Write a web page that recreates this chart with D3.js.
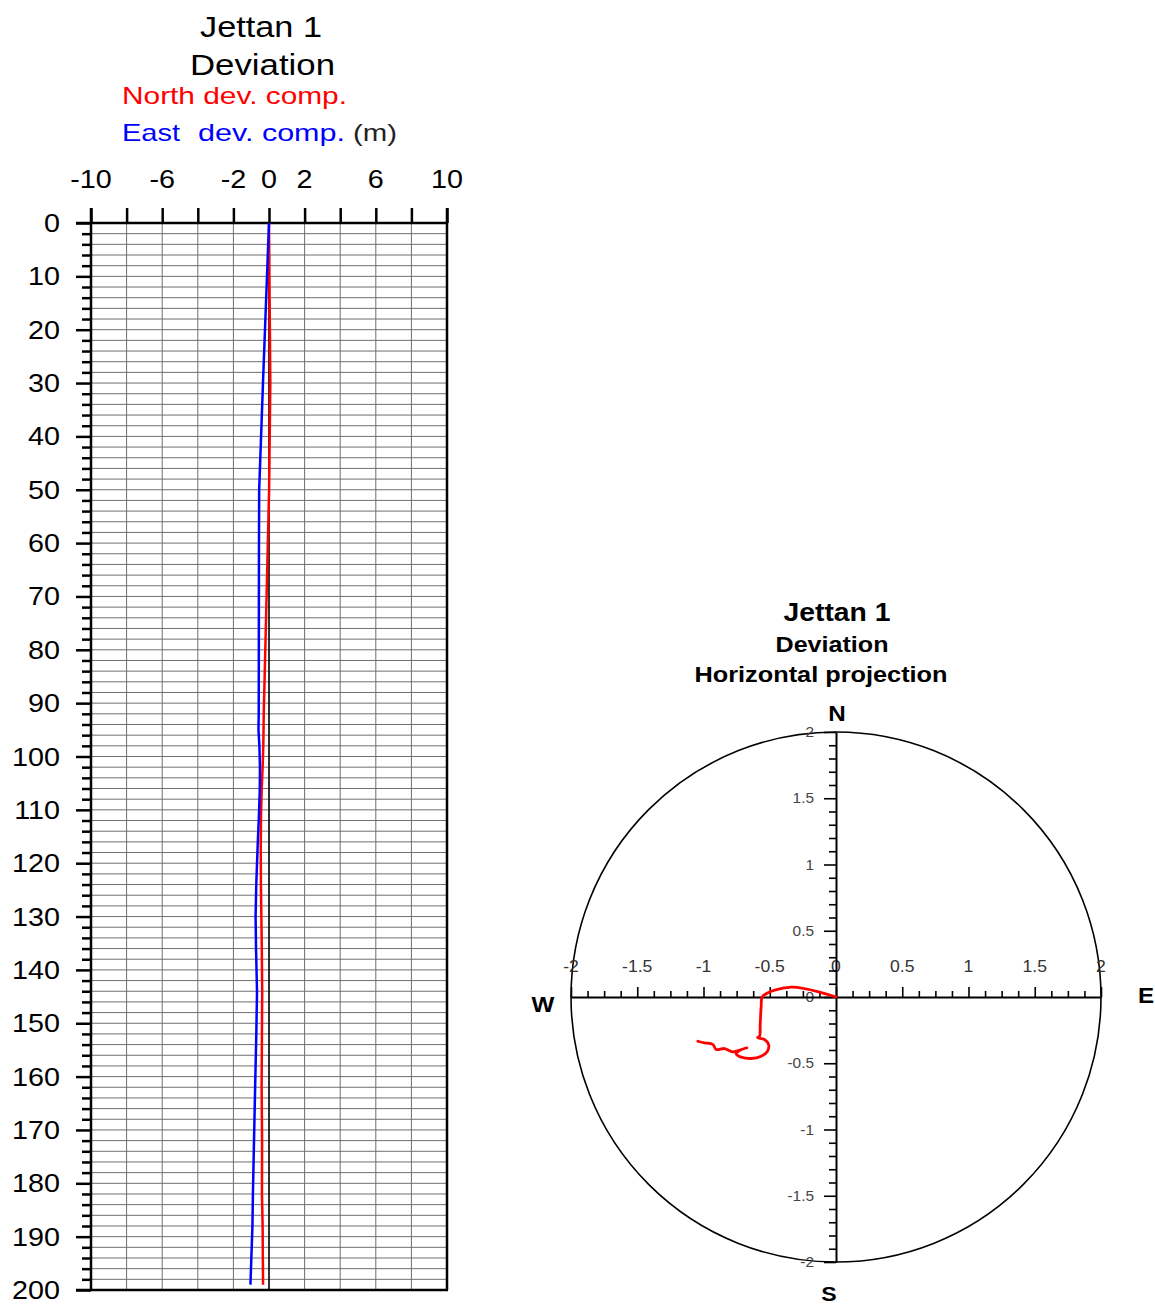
<!DOCTYPE html>
<html>
<head>
<meta charset="utf-8">
<script src="https://cdn.jsdelivr.net/npm/d3@7"></script>
<style>
  html, body { margin: 0; padding: 0; background: #fff; }
  svg { display: block; }
</style>
</head>
<body>
<svg id="chart" width="1155" height="1306"></svg>
<script>
// Survey stations of the Jettan 1 well: measured depth (m) and horizontal
// deviation components (m), east and north of the wellhead.
const depth = [0, 30, 50, 62, 80, 92, 95, 98, 102, 106, 111, 117, 124, 130, 136, 144, 152, 162, 172, 182, 188, 194, 199];
const east  = [0, -0.338, -0.552, -0.565, -0.572, -0.577, -0.592, -0.540, -0.509, -0.517, -0.565, -0.640, -0.715, -0.753, -0.728, -0.673, -0.713, -0.779, -0.842, -0.904, -0.930, -0.992, -1.043];
const north = [0, 0.074, 0.006, -0.079, -0.208, -0.296, -0.306, -0.321, -0.358, -0.409, -0.447, -0.464, -0.454, -0.429, -0.404, -0.383, -0.396, -0.414, -0.389, -0.396, -0.358, -0.346, -0.334];

// Axis labels
const devTickLabels = [-10, -6, -2, 0, 2, 6, 10];
const depthTickLabels = d3.range(0, 201, 10);
const projHTickLabels = ["-2", "-1.5", "-1", "-0.5", "0", "0.5", "1", "1.5", "2"];
const projVTickLabels = ["2", "1.5", "1", "0.5", "0", "-0.5", "-1", "-1.5", "-2"];

const stations = depth.map((d, i) => ({ depth: d, east: east[i], north: north[i] }));

const svg = d3.select("#chart");
const FONT = "'Liberation Sans', Arial, Helvetica, sans-serif";
const SX = 1.15; // wide lettering

function label(g, s, x, y, o = {}) {
  return g.append("text")
    .attr("transform", `translate(${x},${y}) scale(${o.sx ?? SX},1)`)
    .attr("text-anchor", o.anchor || "middle")
    .attr("font-family", FONT)
    .attr("font-size", o.size || 16)
    .attr("font-weight", o.weight || 400)
    .attr("fill", o.fill || "#000")
    .text(s);
}
function fitted(g, s, x, y, w, o = {}) {
  return g.append("text")
    .attr("x", x).attr("y", y)
    .attr("text-anchor", o.anchor || "start")
    .attr("font-family", FONT)
    .attr("font-size", o.size || 16)
    .attr("font-weight", o.weight || 400)
    .attr("fill", o.fill || "#000")
    .attr("textLength", w)
    .attr("lengthAdjust", "spacingAndGlyphs")
    .text(s);
}

// ---------- Depth profile of the deviation components ----------
const left = svg.append("g");
const x = d3.scaleLinear().domain([-10, 10]).range([91, 447]);
const y = d3.scaleLinear().domain([0, 200]).range([223, 1290]);

fitted(left, "Jettan 1", 200, 37, 122, { size: 30 });
fitted(left, "Deviation", 190, 75, 145, { size: 30 });
fitted(left, "North dev. comp.", 122, 104, 225, { size: 24, fill: "#ff0000" });
fitted(left, "East", 122, 141, 58, { size: 24, fill: "#0000ff" });
fitted(left, "dev. comp.", 198, 141, 147, { size: 24, fill: "#0000ff" });
fitted(left, "(m)", 353, 141, 44, { size: 24, fill: "#222" });

// grid
const grid = left.append("g").attr("stroke", "#6f6f6f").attr("stroke-width", 1);
d3.range(2, 200, 2).forEach(v => {
  grid.append("line").attr("x1", x(-10)).attr("x2", x(10)).attr("y1", y(v)).attr("y2", y(v));
});
d3.range(-8, 10, 2).filter(v => v !== 0).forEach(v => {
  grid.append("line").attr("x1", x(v)).attr("x2", x(v)).attr("y1", y(0)).attr("y2", y(200));
});
// zero line
left.append("line").attr("x1", x(0)).attr("x2", x(0)).attr("y1", y(0)).attr("y2", y(200))
  .attr("stroke", "#000").attr("stroke-width", 1.6);

// top axis (deviation, m)
const topAxis = d3.axisTop(x).tickValues(d3.range(-10, 11, 2)).tickFormat("").tickSizeInner(15).tickSizeOuter(0);
left.append("g").attr("transform", `translate(0,${y(0)})`).call(topAxis)
  .call(g => g.select(".domain").remove())
  .call(g => g.selectAll("line").attr("stroke", "#000").attr("stroke-width", 2.5));
devTickLabels.forEach(v => label(left, v, x(v), 188, { size: 25 }));

// left axis (depth, m)
const leftAxis = d3.axisLeft(y).tickValues(d3.range(0, 201, 2)).tickFormat("")
  .tickSizeInner(9).tickSizeOuter(0);
left.append("g").attr("transform", `translate(${x(-10)},0)`).call(leftAxis)
  .call(g => g.select(".domain").remove())
  .call(g => g.selectAll(".tick line")
    .attr("stroke", "#000").attr("stroke-width", 2.5)
    .attr("x2", d => (d % 10 === 0 ? -15 : -9)));
depthTickLabels.forEach(v => label(left, v, 60, y(v) + 9, { size: 25, anchor: "end" }));

// frame
const frame = left.append("g").attr("stroke", "#000").attr("stroke-width", 2.5);
frame.append("line").attr("x1", 76).attr("x2", x(10) + 1).attr("y1", y(0)).attr("y2", y(0));
frame.append("line").attr("x1", 76).attr("x2", x(10) + 1).attr("y1", y(200)).attr("y2", y(200));
frame.append("line").attr("x1", x(-10)).attr("x2", x(-10)).attr("y1", 208).attr("y2", y(200));
frame.append("line").attr("x1", x(10)).attr("x2", x(10)).attr("y1", 208).attr("y2", y(200));

const northLine = d3.line().x(d => x(d.north)).y(d => y(d.depth));
const eastLine = d3.line().x(d => x(d.east)).y(d => y(d.depth));
left.append("path").datum(stations).attr("d", northLine)
  .attr("fill", "none").attr("stroke", "#ff0000").attr("stroke-width", 2.5);
left.append("path").datum(stations).attr("d", eastLine)
  .attr("fill", "none").attr("stroke", "#0000ff").attr("stroke-width", 2.5);

// ---------- Horizontal projection ----------
const proj = svg.append("g");
const px = d3.scaleLinear().domain([-2, 2]).range([571, 1101]);
const py = d3.scaleLinear().domain([-2, 2]).range([1262, 732]);
const cx = px(0), cy = py(0), R = px(2) - px(0);

fitted(proj, "Jettan 1", 837, 621, 107, { size: 25, weight: 700, anchor: "middle" });
fitted(proj, "Deviation", 832, 652, 113, { size: 22, weight: 700, anchor: "middle" });
fitted(proj, "Horizontal projection", 821, 682, 253, { size: 22, weight: 700, anchor: "middle" });

proj.append("circle").attr("cx", cx).attr("cy", cy).attr("r", R)
  .attr("fill", "none").attr("stroke", "#000").attr("stroke-width", 1.6);

// tick labels (drawn beneath the axes)
projHTickLabels.forEach(s => label(proj, s, px(+s), 972, { size: 16, fill: "#333", sx: 1.1 }));
projVTickLabels.forEach(s => label(proj, s, 814, py(+s) + 5, { size: 14, fill: "#444", anchor: "end", sx: 1.1 }));

// east-west axis
const hAxis = d3.axisTop(px).tickValues(d3.range(-2, 2.0001, 0.125)).tickFormat("").tickSizeInner(6).tickSizeOuter(0);
proj.append("g").attr("transform", `translate(0,${cy})`).call(hAxis)
  .call(g => g.select(".domain").attr("stroke", "#000").attr("stroke-width", 2))
  .call(g => g.selectAll(".tick line").attr("stroke", "#000").attr("stroke-width", 1.6)
    .attr("y2", d => (Math.abs(d * 2 - Math.round(d * 2)) < 1e-6 ? -10 : -6)));

// north-south axis
const vAxis = d3.axisLeft(py).tickValues(d3.range(-20, 21, 1).map(v => v / 10)).tickFormat("").tickSizeInner(7).tickSizeOuter(0);
proj.append("g").attr("transform", `translate(${cx},0)`).call(vAxis)
  .call(g => g.select(".domain").attr("stroke", "#000").attr("stroke-width", 2))
  .call(g => g.selectAll(".tick line").attr("stroke", "#000").attr("stroke-width", 1.6)
    .attr("x2", d => (Math.abs(d * 2 - Math.round(d * 2)) < 1e-6 ? -12 : -7)));

// compass letters
label(proj, "N", 837, 721, { size: 22, weight: 700, sx: 1.1 });
label(proj, "S", 829, 1301, { size: 21, weight: 700, sx: 1.1 });
label(proj, "W", 543, 1012, { size: 22, weight: 700, sx: 1.1 });
label(proj, "E", 1146, 1003, { size: 22, weight: 700, sx: 1.1 });

// well path
const track = d3.line().x(d => px(d.east)).y(d => py(d.north)).curve(d3.curveCatmullRom.alpha(0.5));
proj.append("path").datum(stations).attr("d", track)
  .attr("fill", "none").attr("stroke", "#ff0000").attr("stroke-width", 2.8)
  .attr("stroke-linejoin", "round").attr("stroke-linecap", "round");
</script>
</body>
</html>
